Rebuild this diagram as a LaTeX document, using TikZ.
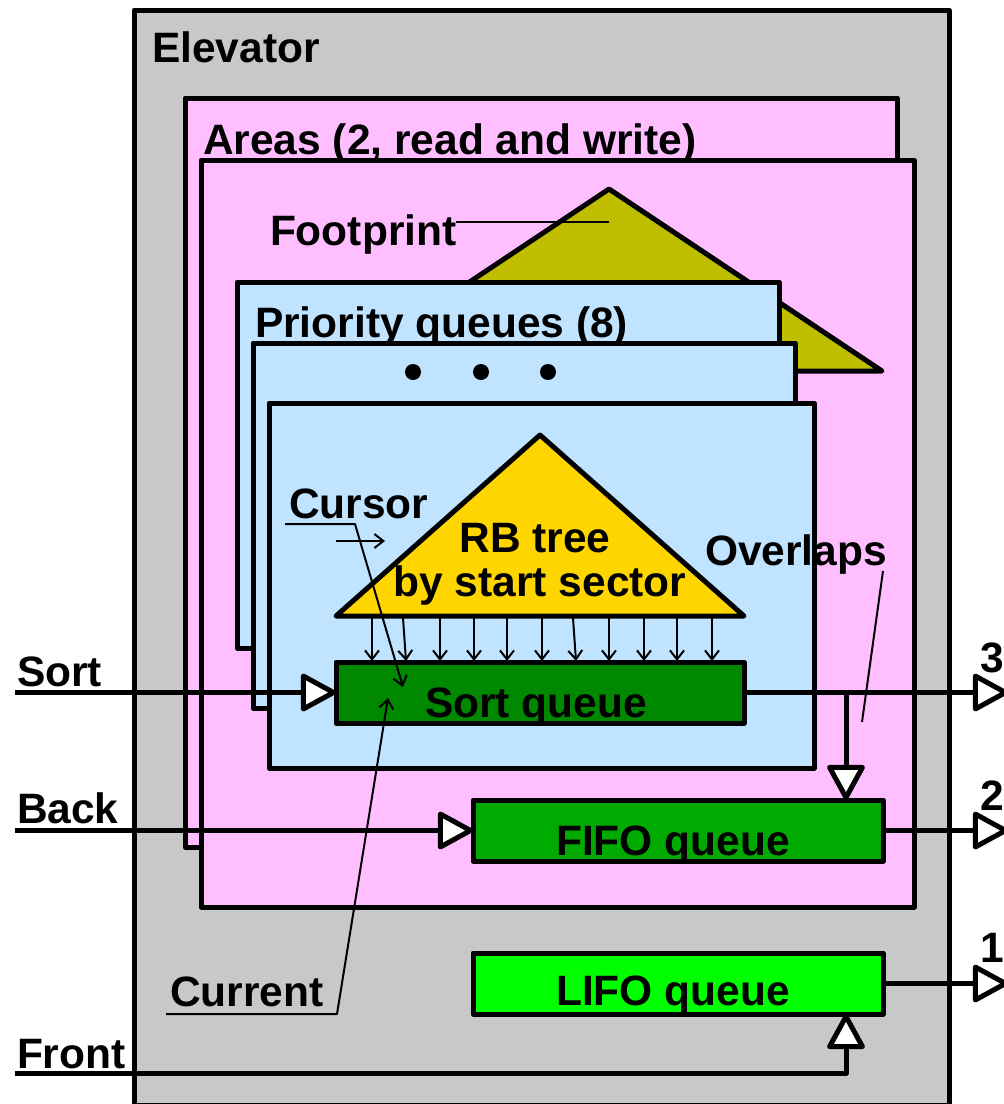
\documentclass[tikz,border=0pt]{standalone}
\usepackage{fontspec}
\setmainfont{Liberation Sans}
\usetikzlibrary{arrows.meta}
\definecolor{elevgray}{RGB}{200,200,200}
\definecolor{areapink}{RGB}{255,190,255}
\definecolor{pqblue}{RGB}{192,228,255}
\definecolor{footolive}{RGB}{191,191,0}
\definecolor{rbgold}{RGB}{255,213,0}
\definecolor{sortgreen}{RGB}{0,136,0}
\definecolor{fifogreen}{RGB}{0,170,0}
\definecolor{lifogreen}{RGB}{0,255,0}
\begin{document}
\begin{tikzpicture}[x=1pt,y=-1pt,
  frame/.style={draw=black,line width=5pt,line join=round},
  qbox/.style={frame,rectangle,inner sep=0pt,outer sep=0pt,anchor=north west},
  lbl/.style={inner sep=0pt,outer sep=0pt,font=\fontsize{42.5}{50}\selectfont\bfseries,anchor=base west},
  clbl/.style={lbl,anchor=base},
  flow/.style={line width=5pt,line join=round},
  bigtip/.style={flow,-{Triangle[round,fill=white,length=38pt,width=40pt]}},
  leader/.style={line width=2pt,line join=round},
  smalltip/.style={leader,-{Straight Barb[length=9pt,width=14pt]}},
  dot/.style={circle,fill=black,inner sep=0pt,minimum size=16pt}
]
\useasboundingbox (0,0) rectangle (1004,1104);
\fill[white] (0,0) rectangle (1004,1104);
% Elevator
\node[qbox,fill=elevgray,minimum width=815pt,minimum height=1095pt] (elev) at (134,10) {};
\node[lbl] (elevlbl) at (152,62) {Elevator};
% Areas
\node[qbox,fill=areapink,minimum width=712pt,minimum height=749pt] (areaback) at (185,98) {};
\node[lbl] (arealbl) at (203,154) {Areas (2, read and write)};
\node[qbox,fill=areapink,minimum width=713pt,minimum height=747pt] (areafront) at (201,160) {};
% Footprint
\coordinate (fpL) at (336,371);
\coordinate (fpapex) at (609,189);
\coordinate (fpR) at (882,371);
\filldraw[frame,fill=footolive] (fpL) -- (fpapex) -- (fpR) -- cycle;
\node[lbl] (fplbl) at (270,245) {Footprint};
\coordinate (fpstart) at (456,222);
\coordinate (fpend) at (609,222);
\draw[leader] (fpstart) -- (fpend);
% Priority queues
\node[qbox,fill=pqblue,minimum width=542pt,minimum height=366pt] (pq1) at (237,282) {};
\node[lbl] (pqlbl) at (255,337) {Priority queues (8)};
\node[qbox,fill=pqblue,minimum width=542pt,minimum height=365pt] (pq2) at (253,343) {};
\node[dot] (dota) at (413,372) {};
\node[dot] (dotb) at (481,372) {};
\node[dot] (dotc) at (548,372) {};
\node[qbox,fill=pqblue,minimum width=545pt,minimum height=365pt] (pq3) at (269,403) {};
% RB tree
\coordinate (rbL) at (336,616);
\coordinate (rbapex) at (540,435);
\coordinate (rbR) at (744,616);
\filldraw[frame,fill=rbgold] (rbL) -- (rbapex) -- (rbR) -- cycle;
\node[clbl] (rb1) at (535,552) {RB tree};
\node[clbl] (rb2) at (540,596) {by start sector};
% Queues
\node[qbox,fill=sortgreen,minimum width=408pt,minimum height=61pt] (sortq) at (336,662) {};
\node[clbl] (sortqlbl) at (536,717) {Sort queue};
\node[qbox,fill=fifogreen,minimum width=410pt,minimum height=61pt] (fifo) at (473,800) {};
\node[clbl] (fifolbl) at (673,855) {FIFO queue};
\node[qbox,fill=lifogreen,minimum width=410pt,minimum height=61pt] (lifo) at (473,953) {};
\node[clbl] (lifolbl) at (673,1005) {LIFO queue};
% tree to sort queue arrows
\foreach \a/\b in {372/372,403/406,440/440,474/474,507/507,542/542,573/576,609/609,644/644,677/677,712/712}
  \draw[smalltip] (\a,618) -- (\b,661);
% inputs and outputs
\coordinate (leftedge) at (15,0);
\coordinate (rightedge) at (1008,0);
\draw[bigtip] (leftedge |- sortq.west) -- (sortq.west);
\draw[bigtip] (sortq.east) -- (rightedge |- sortq.east);
\draw[bigtip] (leftedge |- fifo.west) -- (fifo.west);
\draw[bigtip] (fifo.east) -- (rightedge |- fifo.east);
\draw[bigtip] (lifo.east) -- (rightedge |- lifo.east);
\coordinate (fifoport) at ([xshift=-37pt]fifo.north east);
\draw[bigtip] (fifoport |- sortq.east) -- (fifoport);
\coordinate (frontin) at (15,1073);
\coordinate (lifoport) at ([xshift=-37pt]lifo.south east);
\draw[bigtip] (frontin) -| (lifoport);
% side labels
\node[lbl] (sortlbl) at (17,686) {Sort};
\node[lbl] (backlbl) at (17,823) {Back};
\node[lbl] (frontlbl) at (17,1068) {Front};
\node[lbl] (out3) at (980,672) {3};
\node[lbl] (out2) at (980,810) {2};
\node[lbl] (out1) at (980,962) {1};
% Overlaps
\node[lbl] (ovlbl) at (705,565) {Overlaps};
\coordinate (ovA) at (883,571);
\coordinate (ovB) at (862,722);
\draw[leader] (ovA) -- (ovB);
% Cursor
\node[lbl] (curslbl) at (289,518) {Cursor};
\coordinate (cursA) at (285,524);
\coordinate (cursB) at (355,524);
\coordinate (cursT) at (403,687);
\draw[smalltip] (cursA) -- (cursB) -- (cursT);
\coordinate (cursarrA) at (336,541);
\coordinate (cursarrB) at (385,541);
\draw[smalltip] (cursarrA) -- (cursarrB);
% Current
\node[lbl] (currlbl) at (170,1006) {Current};
\coordinate (currA) at (166,1014);
\coordinate (currB) at (337,1014);
\coordinate (currT) at (388,698);
\draw[smalltip] (currA) -- (currB) -- (currT);
\end{tikzpicture}
\end{document}
